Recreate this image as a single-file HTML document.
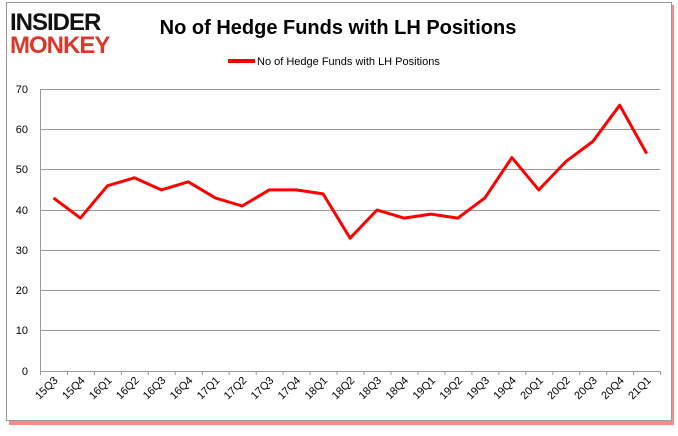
<!DOCTYPE html>
<html><head><style>body{margin:0;background:#fff}</style></head><body>
<svg width="678" height="431" xmlns="http://www.w3.org/2000/svg" font-family="Liberation Sans, sans-serif">
<rect x="0" y="0" width="678" height="431" fill="#fff"/>
<rect x="9" y="5" width="665" height="420" fill="#f55" opacity="0.7"/>
<rect x="6.5" y="2.5" width="665" height="418" fill="#fff" stroke="#999" stroke-width="1"/>
<text x="10" y="30" font-size="24" font-weight="900" fill="#111" letter-spacing="-1">INSIDER</text>
<text x="10" y="53" font-size="24" font-weight="900" fill="#d9382a" letter-spacing="-1">MONKEY</text>
<text x="338" y="34" font-size="20" font-weight="bold" text-anchor="middle" fill="#000">No of Hedge Funds with LH Positions</text>
<line x1="228" y1="61" x2="255" y2="61" stroke="#f00" stroke-width="4"/>
<text x="257" y="65" font-size="11" fill="#000">No of Hedge Funds with LH Positions</text>
<g stroke="#999" stroke-width="1">
<line x1="40" y1="89.5" x2="660" y2="89.5"/>
<line x1="40" y1="129.5" x2="660" y2="129.5"/>
<line x1="40" y1="169.5" x2="660" y2="169.5"/>
<line x1="40" y1="210.5" x2="660" y2="210.5"/>
<line x1="40" y1="250.5" x2="660" y2="250.5"/>
<line x1="40" y1="290.5" x2="660" y2="290.5"/>
<line x1="40" y1="330.5" x2="660" y2="330.5"/>
<line x1="40" y1="371.5" x2="660" y2="371.5"/>
<line x1="40.5" y1="89" x2="40.5" y2="375"/>
<path d="M67.5 371v4M94.4 371v4M121.4 371v4M148.3 371v4M175.3 371v4M202.3 371v4M229.2 371v4M256.2 371v4M283.1 371v4M310.1 371v4M337.1 371v4M364 371v4M391 371v4M418 371v4M444.9 371v4M471.9 371v4M498.8 371v4M525.8 371v4M552.8 371v4M579.7 371v4M606.7 371v4M633.6 371v4M660.6 371v4"/>
</g>
<g font-size="11" text-anchor="end" fill="#000">
<text x="28" y="93">70</text><text x="28" y="133">60</text><text x="28" y="173">50</text><text x="28" y="214">40</text><text x="28" y="254">30</text><text x="28" y="294">20</text><text x="28" y="334">10</text><text x="28" y="375">0</text>
</g>
<g font-size="11" text-anchor="end" fill="#000">
<text transform="translate(58.5,381) rotate(-45)">15Q3</text>
<text transform="translate(85.5,381) rotate(-45)">15Q4</text>
<text transform="translate(112.4,381) rotate(-45)">16Q1</text>
<text transform="translate(139.4,381) rotate(-45)">16Q2</text>
<text transform="translate(166.3,381) rotate(-45)">16Q3</text>
<text transform="translate(193.3,381) rotate(-45)">16Q4</text>
<text transform="translate(220.3,381) rotate(-45)">17Q1</text>
<text transform="translate(247.2,381) rotate(-45)">17Q2</text>
<text transform="translate(274.2,381) rotate(-45)">17Q3</text>
<text transform="translate(301.1,381) rotate(-45)">17Q4</text>
<text transform="translate(328.1,381) rotate(-45)">18Q1</text>
<text transform="translate(355.1,381) rotate(-45)">18Q2</text>
<text transform="translate(382,381) rotate(-45)">18Q3</text>
<text transform="translate(409,381) rotate(-45)">18Q4</text>
<text transform="translate(436,381) rotate(-45)">19Q1</text>
<text transform="translate(462.9,381) rotate(-45)">19Q2</text>
<text transform="translate(489.9,381) rotate(-45)">19Q3</text>
<text transform="translate(516.8,381) rotate(-45)">19Q4</text>
<text transform="translate(543.8,381) rotate(-45)">20Q1</text>
<text transform="translate(570.7,381) rotate(-45)">20Q2</text>
<text transform="translate(597.7,381) rotate(-45)">20Q3</text>
<text transform="translate(624.7,381) rotate(-45)">20Q4</text>
<text transform="translate(651.6,381) rotate(-45)">21Q1</text>
</g>
<polyline fill="none" stroke="#f00" stroke-width="3" stroke-linejoin="round" points="53.5,197.9 80.4,218.1 107.4,185.8 134.4,177.8 161.3,189.9 188.3,181.8 215.3,197.9 242.2,206 269.2,189.9 296.2,189.9 323.1,193.9 350.1,238.2 377,210 404,218.1 431,214.1 457.9,218.1 484.9,197.9 511.9,157.6 538.8,189.9 565.8,161.6 592.8,141.5 619.7,105.2 646.7,153.6"/>
</svg>
</body></html>
